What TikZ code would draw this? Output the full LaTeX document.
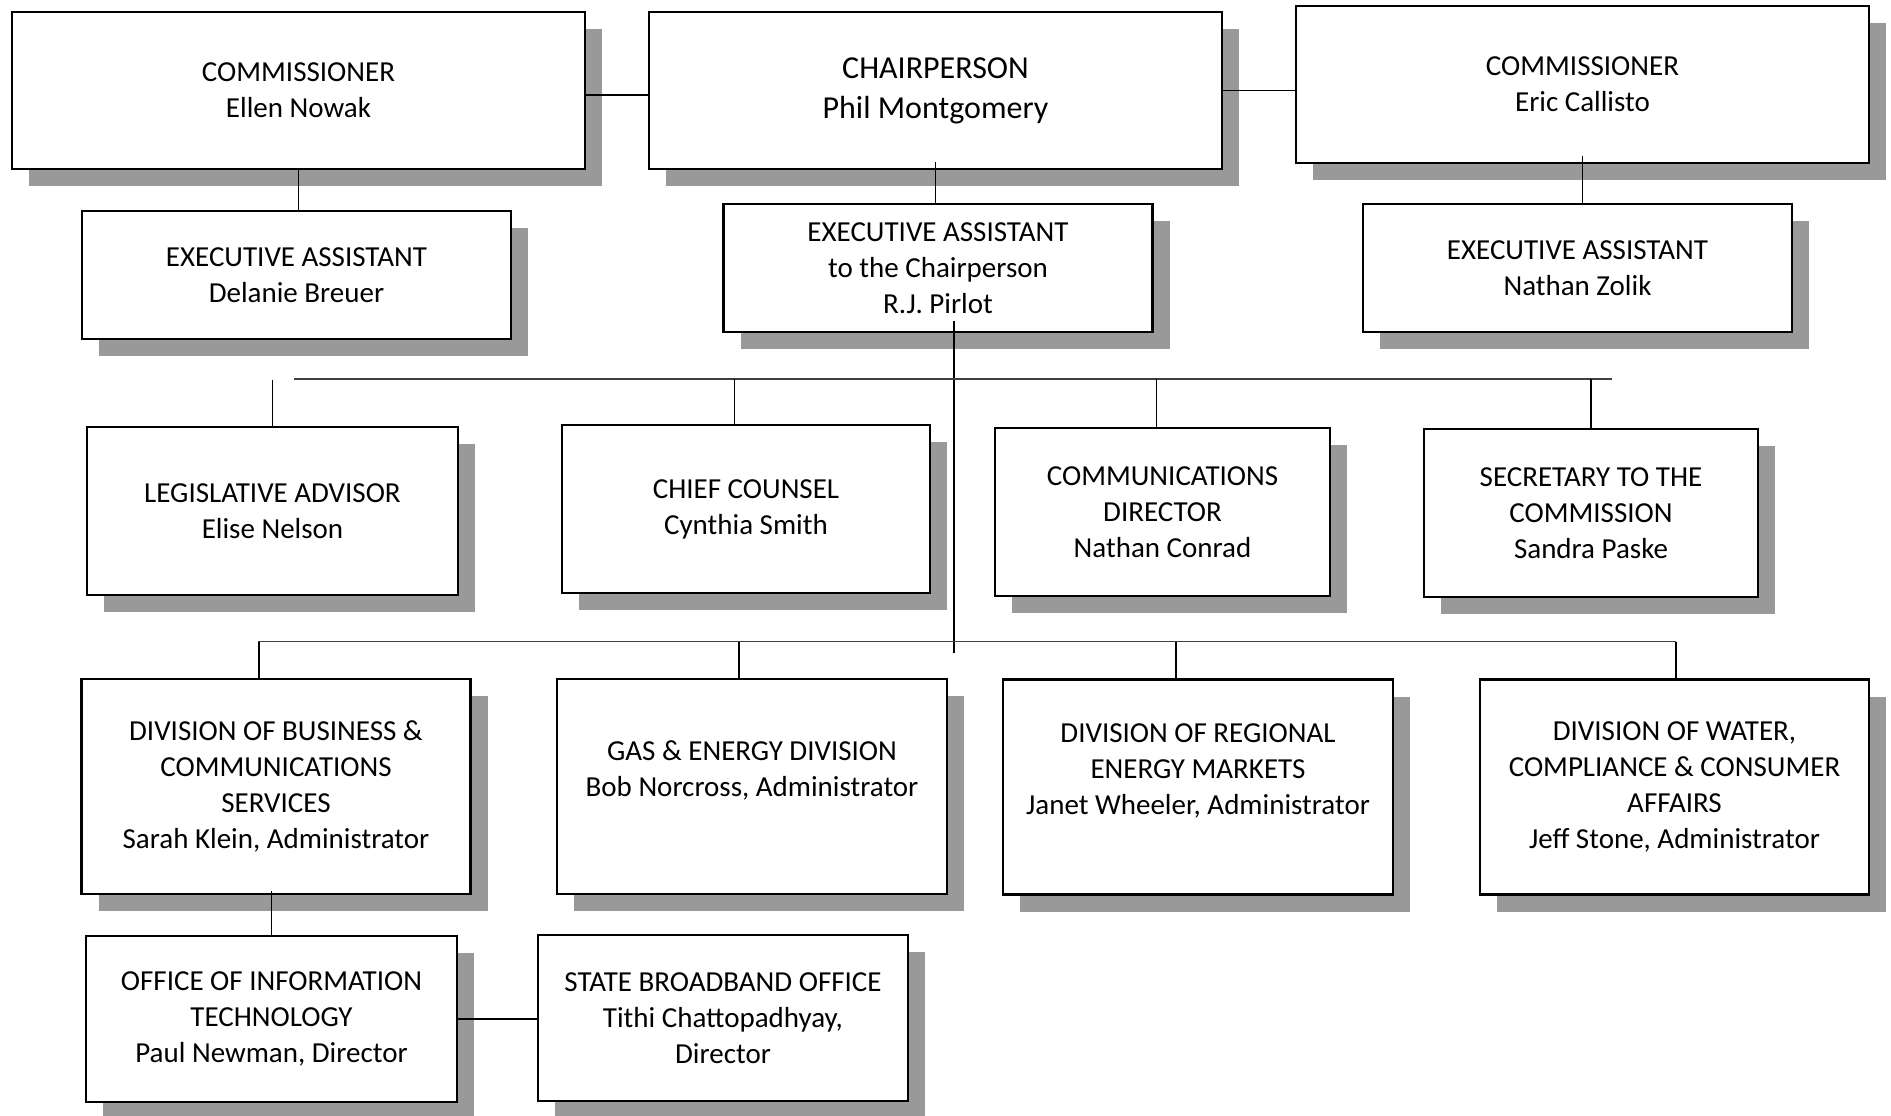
\documentclass[tikz,border=0pt]{standalone}
\usepackage{fontspec}
\setmainfont{Carlito}
\usetikzlibrary{shadows}

\begin{document}
\begin{tikzpicture}[x=0.5pt,y=-0.5pt,
        every node/.style={align=center,font=\fontsize{14.5pt}{18pt}\selectfont},
        box/.style={draw,line width=1.1pt,fill=white,
          drop shadow={shadow xshift=8.5pt,shadow yshift=-8.5pt,fill=black!40,opacity=1}},
        head/.style={box,minimum width=286.5pt,minimum height=78.5pt},
        assist/.style={box,minimum width=214.5pt,minimum height=64pt},
        staff/.style={box,minimum height=84pt},
        division/.style={box,minimum width=194.5pt,minimum height=107.5pt},
        office/.style={box,minimum width=185.5pt,minimum height=83pt},
        link/.style={line width=0.6pt},
        bar/.style={line width=0.8pt,black!75}]
  \useasboundingbox (0,0) rectangle (1891,1115);
  % commission
  \node[head] (com1) at (298.5,90.5) {COMMISSIONER\\Ellen Nowak};
  \node[head,font=\fontsize{16pt}{20pt}\selectfont] (chair) at (935.5,90.5)
    {CHAIRPERSON\\Phil Montgomery};
  \node[head] (com2) at (1582.5,84.5) {COMMISSIONER\\Eric Callisto};
  \node[assist] (ea1) at (296.5,275) {EXECUTIVE ASSISTANT\\Delanie Breuer};
  \node[assist] (ea2) at (938,268)
    {EXECUTIVE ASSISTANT\\to the Chairperson\\R.J. Pirlot};
  \node[assist] (ea3) at (1577.5,268) {EXECUTIVE ASSISTANT\\Nathan Zolik};
  % staff offices
  \node[staff,minimum width=185.5pt] (adv) at (272.5,511)
    {LEGISLATIVE ADVISOR\\Elise Nelson};
  \node[staff,minimum width=184pt] (counsel) at (746,509)
    {CHIEF COUNSEL\\Cynthia Smith};
  \node[staff,minimum width=167.5pt] (comm) at (1162.5,512)
    {COMMUNICATIONS\\DIRECTOR\\Nathan Conrad};
  \node[staff,minimum width=167pt] (sec) at (1591,513)
    {SECRETARY TO THE\\COMMISSION\\Sandra Paske};
  % divisions
  \node[division] (div1) at (276,786.5)
    {DIVISION OF BUSINESS \&\\COMMUNICATIONS\\SERVICES\\Sarah Klein, Administrator};
  \node[division,minimum width=195pt] (div2) at (752,786.5)
    {GAS \& ENERGY DIVISION\\Bob Norcross, Administrator\\~};
  \node[division,minimum width=195pt] (div3) at (1198,787)
    {DIVISION OF REGIONAL\\ENERGY MARKETS\\Janet Wheeler, Administrator\\~};
  \node[division] (div4) at (1674.5,787)
    {DIVISION OF WATER,\\COMPLIANCE \& CONSUMER\\AFFAIRS\\Jeff Stone, Administrator};
  \node[office] (oit) at (271.5,1019)
    {OFFICE OF INFORMATION\\TECHNOLOGY\\Paul Newman, Director};
  \node[office,minimum width=185pt] (sbo) at (723,1018)
    {STATE BROADBAND OFFICE\\Tithi Chattopadhyay,\\Director};
  % bars
  \coordinate (bar1w) at (294,378.7);
  \coordinate (bar1e) at (1612,378.7);
  \coordinate (bar2w) at (258,641.6);
  \coordinate (bar2e) at (1676,641.6);
  \coordinate (tr) at (954,652.5);
  % lines
  \draw[link] ([yshift=-2.25pt]com1.east) -- ([yshift=-2.25pt]chair.west);
  \draw[link] (chair.east) -- (chair.east -| com2.west);
  \draw[link] (com1.south) -- (com1.south |- ea1.north);
  \draw[link] ([yshift=4pt]chair.south) -- (chair.south |- ea2.north);
  \draw[link] ([yshift=4pt]com2.south) -- (com2.south |- ea3.north);
  \draw[link] ([xshift=8pt,yshift=6pt]ea2.south) -- (tr);
  \draw[bar] (bar1w) -- (bar1e);
  \draw[link] (adv.north) -- ++(0,-46);
  \draw[link] ([xshift=-5.75pt]counsel.north) -- ([xshift=-5.75pt]counsel.north |- bar1w);
  \draw[link] ([xshift=-3pt]comm.north) -- ([xshift=-3pt]comm.north |- bar1w);
  \draw[link] (sec.north) -- (sec.north |- bar1w);
  \draw[bar] (bar2w) -- (bar2e);
  \draw[link] ([xshift=-8.5pt]div1.north) -- ([xshift=-8.5pt]div1.north |- bar2w);
  \draw[link] ([xshift=-6.5pt]div2.north) -- ([xshift=-6.5pt]div2.north |- bar2w);
  \draw[link] ([xshift=-11pt]div3.north) -- ([xshift=-11pt]div3.north |- bar2w);
  \draw[link] (bar2e) -- (bar2e |- div4.north);
  \draw[link] ([yshift=2pt]oit.north |- div1.south) -- (oit.north);
  \draw[link] (oit.east) -- (oit.east -| sbo.west);
\end{tikzpicture}
\end{document}
